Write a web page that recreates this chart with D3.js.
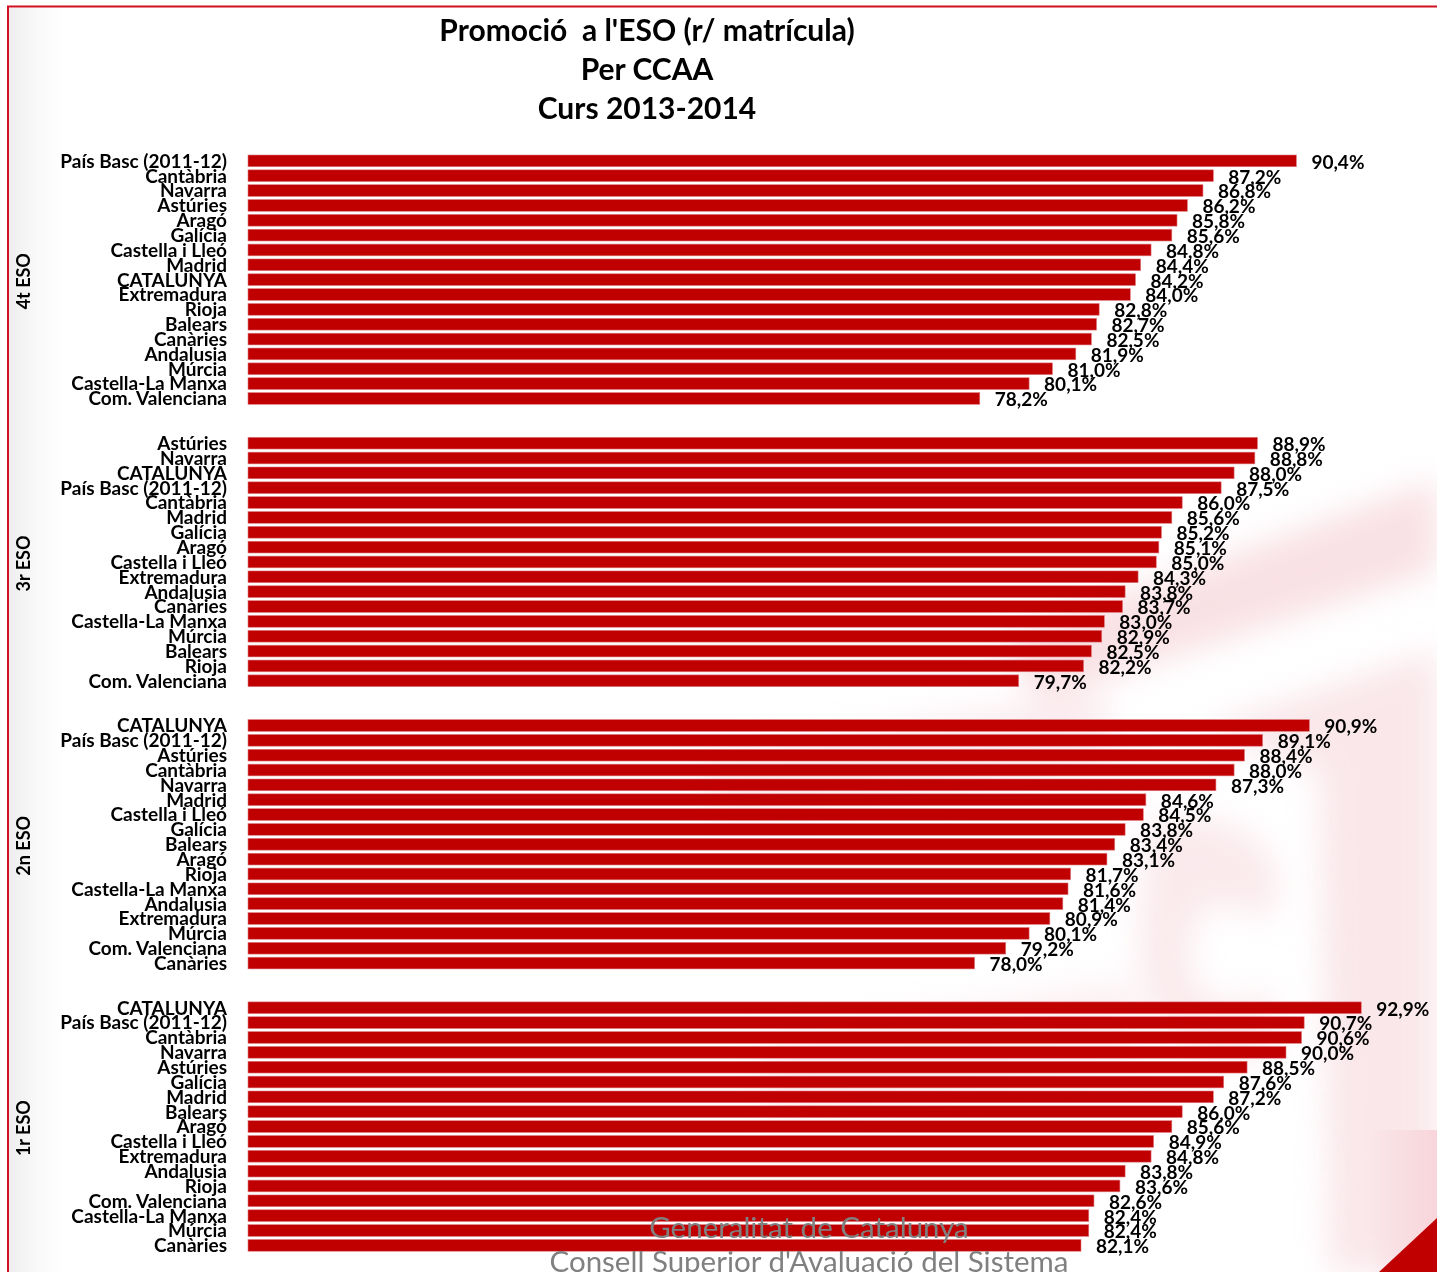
<!DOCTYPE html>
<html>
<head>
<meta charset="utf-8">
<script src="https://cdn.jsdelivr.net/npm/d3@7"></script>
<style>
  body { margin: 0; background: #fff; }
  svg { display: block; }
  .cat { font-family: Lato, "Open Sans", sans-serif; font-weight: 700; fill: #000; }
  .val { font-family: Lato, "Open Sans", sans-serif; font-weight: 700; fill: #000; }
</style>
</head>
<body>
<svg id="chart"></svg>
<script>
// chart data, one list per course, top to bottom
const titleLines = ["Promoció\u00a0 a l'ESO (r/ matrícula)", "Per CCAA", "Curs 2013-2014"];
const courses = ["4t ESO", "3r ESO", "2n ESO", "1r ESO"];

const regions4t = ["País Basc (2011-12)", "Cantàbria", "Navarra", "Astúries", "Aragó", "Galícia", "Castella i Lleó", "Madrid", "CATALUNYA", "Extremadura", "Rioja", "Balears", "Canàries", "Andalusia", "Múrcia", "Castella-La Manxa", "Com. Valenciana"];
const values4t = [90.4, 87.2, 86.8, 86.2, 85.8, 85.6, 84.8, 84.4, 84.2, 84.0, 82.8, 82.7, 82.5, 81.9, 81.0, 80.1, 78.2];

const regions3r = ["Astúries", "Navarra", "CATALUNYA", "País Basc (2011-12)", "Cantàbria", "Madrid", "Galícia", "Aragó", "Castella i Lleó", "Extremadura", "Andalusia", "Canàries", "Castella-La Manxa", "Múrcia", "Balears", "Rioja", "Com. Valenciana"];
const values3r = [88.9, 88.8, 88.0, 87.5, 86.0, 85.6, 85.2, 85.1, 85.0, 84.3, 83.8, 83.7, 83.0, 82.9, 82.5, 82.2, 79.7];

const regions2n = ["CATALUNYA", "País Basc (2011-12)", "Astúries", "Cantàbria", "Navarra", "Madrid", "Castella i Lleó", "Galícia", "Balears", "Aragó", "Rioja", "Castella-La Manxa", "Andalusia", "Extremadura", "Múrcia", "Com. Valenciana", "Canàries"];
const values2n = [90.9, 89.1, 88.4, 88.0, 87.3, 84.6, 84.5, 83.8, 83.4, 83.1, 81.7, 81.6, 81.4, 80.9, 80.1, 79.2, 78.0];

const regions1r = ["CATALUNYA", "País Basc (2011-12)", "Cantàbria", "Navarra", "Astúries", "Galícia", "Madrid", "Balears", "Aragó", "Castella i Lleó", "Extremadura", "Andalusia", "Rioja", "Com. Valenciana", "Castella-La Manxa", "Múrcia", "Canàries"];
const values1r = [92.9, 90.7, 90.6, 90.0, 88.5, 87.6, 87.2, 86.0, 85.6, 84.9, 84.8, 83.8, 83.6, 82.6, 82.4, 82.4, 82.1];

const xDomain = [50, 100];
const footerLines = ["Generalitat de Catalunya", "Consell Superior d'Avaluació del Sistema"];

const W = 1437, H = 1272;
const barLeft = 248, pxPerPoint = 25.95;
const groupTop = 155, groupStep = 282.3, rowStep = 14.85;

const groups = [
  { name: courses[0], regions: regions4t, values: values4t },
  { name: courses[1], regions: regions3r, values: values3r },
  { name: courses[2], regions: regions2n, values: values2n },
  { name: courses[3], regions: regions1r, values: values1r },
];

const svg = d3.select("#chart").attr("width", W).attr("height", H);
const defs = svg.append("defs");

defs.append("filter").attr("id", "blur")
  .attr("x", "-20%").attr("y", "-20%").attr("width", "140%").attr("height", "140%")
  .append("feGaussianBlur").attr("stdDeviation", 16);

const shade = defs.append("linearGradient").attr("id", "leftShade");
shade.append("stop").attr("offset", "0%").attr("stop-color", "#e6e6e6");
shade.append("stop").attr("offset", "100%").attr("stop-color", "#fff").attr("stop-opacity", 0);

const pinkEdge = defs.append("linearGradient").attr("id", "pinkEdge");
pinkEdge.append("stop").attr("offset", "0%").attr("stop-color", "#f7d4d9").attr("stop-opacity", 0);
pinkEdge.append("stop").attr("offset", "100%").attr("stop-color", "#f7d4d9");

// faded logo watermark in the background
svg.append("rect").attr("x", 9).attr("y", 8).attr("width", 70).attr("height", H)
  .attr("fill", "url(#leftShade)").attr("opacity", 0.7);

const wm = svg.append("g").attr("filter", "url(#blur)").attr("fill", "#f4cdd3").attr("opacity", 0.6);
wm.append("path").attr("d", "M1000,640 L1437,480 L1437,570 L1040,700 Z");
wm.append("path").attr("d", "M700,760 L1100,690 L1120,760 L720,830 Z").attr("opacity", 0.6);
wm.append("path").attr("d", "M1200,730 L1437,650 L1437,1272 L1330,1272 L1320,770 Z").attr("opacity", 0.8);
wm.append("path").attr("d", "M1150,820 C1280,800 1300,900 1260,920 C1220,890 1190,900 1190,960 C1190,1010 1240,1010 1270,990 L1280,1050 C1200,1080 1140,1030 1140,950 C1140,880 1150,840 1150,820 Z").attr("opacity", 0.7);
wm.append("path").attr("d", "M760,1040 L1130,980 L1140,1060 L770,1120 Z").attr("opacity", 0.5);
svg.append("rect").attr("x", 1370).attr("y", 1130).attr("width", 67).attr("height", 142)
  .attr("fill", "url(#pinkEdge)");

// red frame and corner
svg.append("path")
  .attr("d", `M8,${H} L8,6.5 L${W},6.5`)
  .attr("fill", "none").attr("stroke", "#d01020").attr("stroke-width", 2);
svg.append("path")
  .attr("d", `M1379,${H} L${W},1218 L${W},${H} Z`)
  .attr("fill", "#c00000");

// title
svg.append("text")
  .attr("x", 647).attr("y", 41)
  .attr("text-anchor", "middle")
  .style("font-family", "Lato, 'Open Sans', sans-serif")
  .style("font-weight", 700).style("font-size", "30px")
  .selectAll("tspan").data(titleLines).join("tspan")
  .attr("x", 647).attr("dy", (d, i) => (i === 0 ? 0 : 39))
  .text((d) => d);

const x = d3.scaleLinear().domain(xDomain).range([barLeft, barLeft + (xDomain[1] - xDomain[0]) * pxPerPoint]);

groups.forEach(function (g, gi) {
  const top = groupTop + gi * groupStep;
  const y = d3.scaleBand()
    .domain(g.regions)
    .range([top, top + rowStep * (g.regions.length - 0.21)])
    .paddingInner(0.21);

  const rows = g.regions.map((r, i) => ({ region: r, value: g.values[i] }));
  const grp = svg.append("g");

  grp.selectAll("rect").data(rows).join("rect")
    .attr("x", x(xDomain[0]))
    .attr("y", (d) => y(d.region))
    .attr("width", (d) => x(d.value) - x(xDomain[0]))
    .attr("height", y.bandwidth())
    .attr("fill", "#c00000")
    .attr("stroke", "#e07a80").attr("stroke-width", 0.6);

  grp.selectAll("text.cat").data(rows).join("text")
    .attr("class", "cat")
    .attr("x", 227)
    .attr("y", (d) => y(d.region) + y.bandwidth() / 2)
    .attr("dy", "0.36em")
    .attr("text-anchor", "end")
    .style("font-size", "19px")
    .text((d) => d.region);

  grp.selectAll("text.val").data(rows).join("text")
    .attr("class", "val")
    .attr("x", (d) => x(d.value) + 15)
    .attr("y", (d) => y(d.region) + y.bandwidth() / 2 + 1)
    .attr("dy", "0.36em")
    .style("font-size", "19px")
    .text((d) => d.value.toFixed(1).replace(".", ",") + "%");

  // course label, rotated
  const mid = top + (rowStep * 17) / 2;
  svg.append("text")
    .attr("transform", `translate(30,${mid}) rotate(-90)`)
    .attr("text-anchor", "middle")
    .style("font-family", "Lato, 'Open Sans', sans-serif")
    .style("font-weight", 700).style("font-size", "18px")
    .text(g.name);
});

// footer
svg.append("g")
  .style("font-family", "'Liberation Sans Narrow', Lato, sans-serif")
  .style("font-size", "29.5px").attr("fill", "#808080")
  .selectAll("text").data(footerLines).join("text")
  .attr("x", 809).attr("y", (d, i) => 1238 + i * 34)
  .attr("text-anchor", "middle")
  .text((d) => d);
</script>
</body>
</html>
